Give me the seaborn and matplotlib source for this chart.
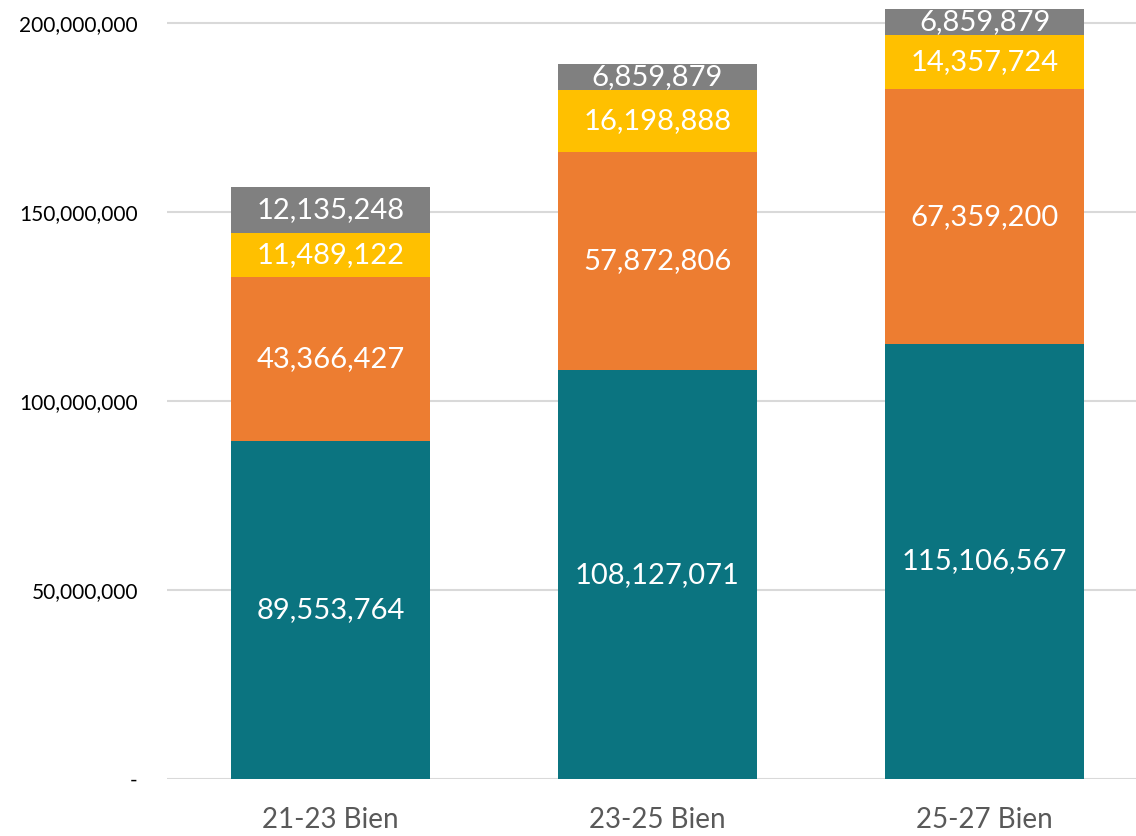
import matplotlib
matplotlib.use("Agg")
import matplotlib.pyplot as plt
import seaborn as sns
import pandas as pd
import numpy as np
from matplotlib.ticker import FuncFormatter

# Biennium budget components (stacked from the bottom)
categories = ["21-23 Bien", "23-25 Bien", "25-27 Bien"]
component_1 = [89553764, 108127071, 115106567]
component_2 = [43366427, 57872806, 67359200]
component_3 = [11489122, 16198888, 14357724]
component_4 = [12135248, 6859879, 6859879]

series = [component_1, component_2, component_3, component_4]
colors = ["#0B7480", "#ED7D31", "#FFC000", "#808080"]

sns.set_theme(style="white")
plt.rcParams["font.family"] = ["Lato", "DejaVu Sans"]

fig = plt.figure(figsize=(11.36, 8.36), dpi=100)
ax = fig.add_axes([167 / 1136, 57 / 836, 969 / 1136, 779 / 836])

cum = np.cumsum(np.array(series, dtype=float), axis=0)

# Draw cumulative totals from the top layer down so each segment shows
for i in range(len(series) - 1, -1, -1):
    df = pd.DataFrame({"cat": categories, "val": cum[i]})
    sns.barplot(data=df, x="cat", y="val", color=colors[i], saturation=1,
                width=0.606, ax=ax, zorder=3, linewidth=0)

# Segment value labels
for i, vals in enumerate(series):
    bottoms = cum[i] - np.array(vals, dtype=float)
    for j, v in enumerate(vals):
        ax.text(j, bottoms[j] + v / 2, f"{v:,}", ha="center", va="center",
                color="white", fontsize=21, zorder=5)

ax.set_xlim(-0.5, 2.463)
ax.set_ylim(0, 206.1e6)
ax.set_yticks([0, 50e6, 100e6, 150e6, 200e6])
ax.yaxis.set_major_formatter(FuncFormatter(lambda y, p: "-" if y == 0 else f"{int(y):,}"))
ax.grid(axis="y", color="#D9D9D9", linewidth=1.5, zorder=0)
ax.set_axisbelow(True)
for s in ax.spines.values():
    s.set_visible(False)
ax.set_xlabel("")
ax.set_ylabel("")
ax.tick_params(axis="y", length=0, pad=21, labelsize=15, labelcolor="#000000")
ax.tick_params(axis="x", length=0, pad=20, labelsize=20, labelcolor="#595959")

fig.savefig("out.png", dpi=100)
